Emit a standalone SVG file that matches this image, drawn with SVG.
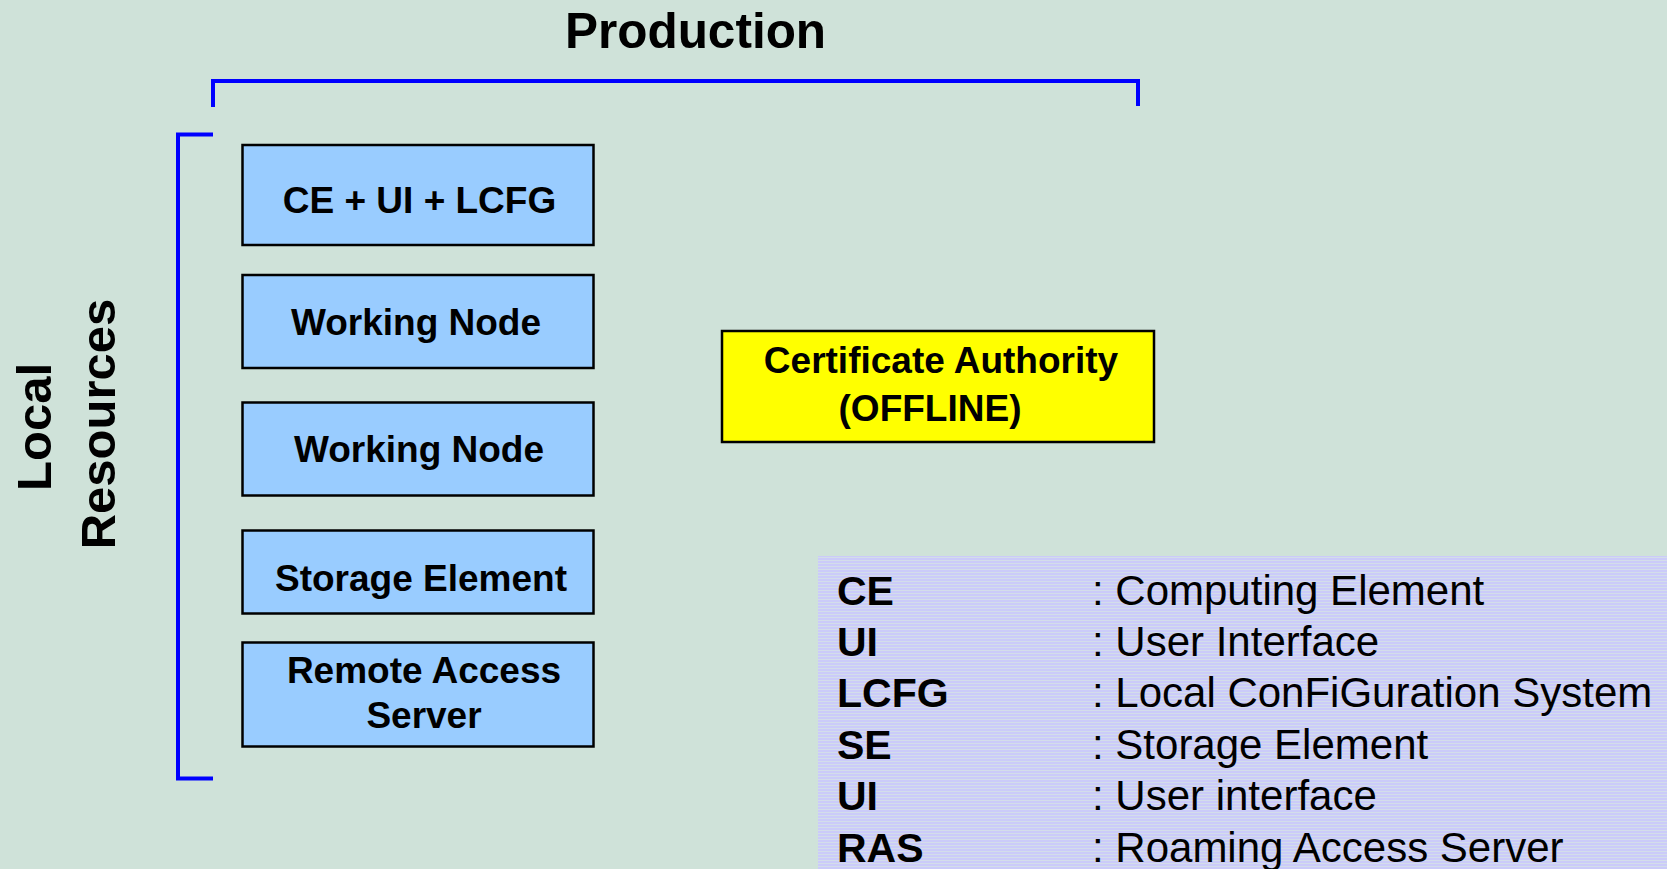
<svg xmlns="http://www.w3.org/2000/svg" width="1667" height="869" viewBox="0 0 1667 869">
<style>
.bg{fill:#CFE2D9}
.box{fill:#99CCFF;stroke:#000;stroke-width:2.5}
.ca{fill:#FFFF00;stroke:#000;stroke-width:2.5}
.br{fill:none;stroke:#0000FF;stroke-width:4}
.t{font-family:"Liberation Sans",Arial,sans-serif;font-weight:bold;font-size:37px;fill:#000;text-anchor:middle}
.title{font-family:"Liberation Sans",Arial,sans-serif;font-weight:bold;font-size:49.5px;fill:#000;text-anchor:middle}
.side{font-family:"Liberation Sans",Arial,sans-serif;font-weight:bold;font-size:49px;fill:#000;text-anchor:middle}
.lk{font-family:"Liberation Sans",Arial,sans-serif;font-weight:bold;font-size:41px;fill:#000}
.lv{font-family:"Liberation Sans",Arial,sans-serif;font-size:42px;fill:#000}
</style>
<defs>
<pattern id="stripes" x="0" y="0" width="8" height="3" patternUnits="userSpaceOnUse">
<rect width="8" height="3" fill="#CBCBF9"/>
<rect y="2" width="8" height="1" fill="#D3DDEA"/>
</pattern>
</defs>
<rect class="bg" x="0" y="0" width="1667" height="869"/>
<text class="title" x="695.5" y="48">Production</text>
<g id="connectors">
<path class="br" d="M213,107 V81 H1138 V106"/>
<path class="br" d="M213,134.5 H178 V778.5 H213"/>
</g>
<g id="label-local">
<text class="side" transform="translate(51,427) rotate(-90)">Local</text>
<text class="side" transform="translate(115,424) rotate(-90)">Resources</text>
</g>
<g id="node-ce">
<rect class="box" x="242.5" y="145" width="351" height="100"/>
<text class="t" x="419.5" y="212.5">CE + UI + LCFG</text>
</g>
<g id="node-wn1">
<rect class="box" x="242.5" y="275" width="351" height="93"/>
<text class="t" x="416" y="335">Working Node</text>
</g>
<g id="node-wn2">
<rect class="box" x="242.5" y="402.5" width="351" height="93"/>
<text class="t" x="419" y="462">Working Node</text>
</g>
<g id="node-se">
<rect class="box" x="242.5" y="530.5" width="351" height="83"/>
<text class="t" x="421" y="590.5">Storage Element</text>
</g>
<g id="node-ras">
<rect class="box" x="242.5" y="642.5" width="351" height="104"/>
<text class="t" x="424" y="683">Remote Access</text>
<text class="t" x="424" y="728">Server</text>
</g>
<g id="node-ca">
<rect class="ca" x="722" y="331" width="432" height="111"/>
<text class="t" x="941" y="373">Certificate Authority</text>
<text class="t" x="930" y="421">(OFFLINE)</text>
</g>
<g id="legend">
<rect x="818" y="556" width="849" height="313" fill="url(#stripes)"/>
<text class="lk" x="837" y="605">CE</text>
<text class="lv" x="1092" y="605">: Computing Element</text>
<text class="lk" x="837" y="656">UI</text>
<text class="lv" x="1092" y="656">: User Interface</text>
<text class="lk" x="837" y="707">LCFG</text>
<text class="lv" x="1092" y="707">: Local ConFiGuration System</text>
<text class="lk" x="837" y="758.5">SE</text>
<text class="lv" x="1092" y="758.5">: Storage Element</text>
<text class="lk" x="837" y="810">UI</text>
<text class="lv" x="1092" y="810">: User interface</text>
<text class="lk" x="837" y="861.5">RAS</text>
<text class="lv" x="1092" y="861.5">: Roaming Access Server</text>
</g>
</svg>
